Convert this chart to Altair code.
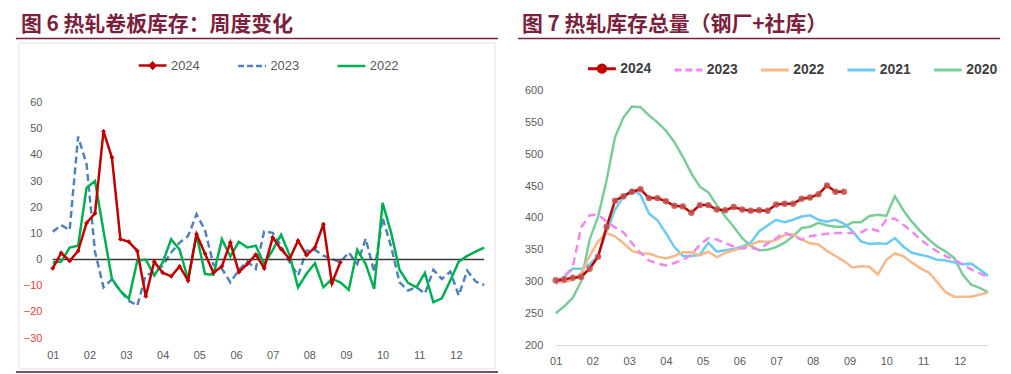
import json
import altair as alt
import pandas as pd

# ---------------- data ----------------
months = ["01", "02", "03", "04", "05", "06", "07", "08", "09", "10", "11", "12"]

title_left = ["图 6 热轧卷板库存：周度变化"]
title_right = ["图 7 热轧库存总量（钢厂+社库）"]

left_years = ["2024", "2023", "2022"]
right_years = ["2024", "2023", "2022", "2021", "2020"]

# weekly change (left)
chg_2024 = [-3.3, 2.5, -0.5, 3.3, 14, 17.7, 49, 39, 7.8, 6.8, 3.3, -14, -0.8, -5, -6.4,
            -2.6, -8, 9.7, 2.3, -5, -2.5, 6.5, -4.8, -1.7, 1.9, -3.3, 8.4, 4, 0.2, 7.2,
            1.7, 4.6, 13.5, -9, -1]
chg_2023 = [10.6, 13.2, 11.3, 47, 36.5, 3, -10.6, -7.6, -12, -15.7, -17.6, -6, -4.9, -2.3,
            2.7, 6.5, 9, 17.3, 11.3, -2, -3.5, -8.7, -4, -0.7, -3.6, 10.8, 10.2, 5.2, -1,
            -6.1, 3.4, 3.7, 1.5, 0.2, -1, 2.7, -1.7, 8, -4.9, 16, 5, -8.7, -11.8, -10.6,
            -13, -3.9, -7.4, -4.6, -13.7, -4.2, -8.4, -9.7]
chg_2022 = [-1.1, -0.8, 4.6, 5.3, 27.4, 30, 11, -7.4, -12, -15, -0.4, 0, -6.1, -1.1, 7.8,
            3.8, -7.6, 9.5, -5.5, -5.8, 7.8, 1.2, 6.8, 4.6, 5.3, -1.7, 3.6, 9.5, 1.7, -10.6,
            -5.4, -1.4, -10.6, -7.4, -8.7, -11.6, 3.7, -1.7, -11.2, 21.7, 10.3, -3.9, -8.9,
            -10.6, -5.1, -16.3, -14.8, -8, -0.8, 1.4, 3, 4.6]

# total inventory (right)
inv_2024 = [302, 303, 306, 307, 320, 339, 386, 427, 434, 441, 445, 431, 431, 426, 419, 418,
            408, 420, 420, 413, 412, 417, 413, 411, 412, 411, 421, 422, 422, 430, 432, 437,
            451, 441, 441]
inv_2023 = [296, 308, 322, 385, 404, 405, 394, 385, 377, 360, 345, 333, 328, 325, 329, 334,
            342, 358, 368, 366, 360, 355, 352, 353, 350, 360, 368, 377, 371, 366, 371, 373,
            375, 376, 376, 376, 377, 384, 379, 397, 399, 389, 379, 366, 356, 347, 340, 334,
            327, 319, 313, 307]
inv_2022 = [299, 299, 302, 313, 340, 363, 376, 371, 360, 348, 344, 344, 339, 336, 340, 346,
            346, 341, 347, 338, 345, 349, 353, 358, 363, 362, 365, 373, 374, 366, 360, 358,
            348, 340, 332, 322, 324, 323, 311, 334, 344, 340, 330, 321, 314, 299, 283, 276,
            276, 276, 279, 283]
inv_2021 = [298, 307, 320, 320, 327, 340, 378, 413, 433, 444, 436, 407, 396, 376, 354, 340,
            340, 342, 361, 347, 349, 351, 355, 361, 379, 388, 397, 393, 397, 402, 404, 397,
            394, 397, 391, 379, 363, 359, 360, 359, 368, 355, 345, 342, 339, 334, 333, 330,
            327, 328, 319, 309]
inv_2020 = [250, 261, 274, 300, 366, 402, 459, 527, 558, 575, 574, 561, 550, 537, 519, 496,
            470, 449, 440, 420, 402, 386, 368, 356, 349, 350, 354, 361, 371, 384, 386, 392,
            388, 386, 386, 393, 393, 403, 405, 403, 434, 412, 394, 379, 366, 355, 347, 337,
            311, 295, 290, 283]

left_y_ticks = [-30, -20, -10, 0, 10, 20, 30, 40, 50, 60]
right_y_ticks = [200, 250, 300, 350, 400, 450, 500, 550, 600]


def long_df(series):
    rows = []
    for yr, vals in series.items():
        for i, v in enumerate(vals):
            rows.append({"week": i + 1, "value": v, "year": yr})
    return pd.DataFrame(rows)


df_left = long_df({"2024": chg_2024, "2023": chg_2023, "2022": chg_2022})
df_right = long_df({"2024": inv_2024, "2023": inv_2023, "2022": inv_2022,
                    "2021": inv_2021, "2020": inv_2020})

# ---------------- styling ----------------
NUM_FONT = "Liberation Sans Narrow, Liberation Sans, sans-serif"
CJK_FONT = "Noto Sans CJK SC"
TITLE_COLOR = "#7A1F3D"
LABEL_GRAY = "#595959"

n_weeks = 52
tick_pos = [1 + m * n_weeks / 12 for m in range(12)]
month_expr = json.dumps(months).replace('"', "'") + "[round((datum.value-1)*12/52)]"

left_colors = ["#C00000", "#4F81BD", "#00B050"]
right_colors = ["#C00000", "#EE88EE", "#F5B98A", "#6CCAEF", "#7ACC98"]

DIAMOND = "M-1,0L1,0M-0.2,0L0,-0.2L0.2,0L0,0.2Z"
CIRCLE = "M-1,0L1,0M0.26,0A0.26,0.26,0,1,1,-0.26,0A0.26,0.26,0,1,1,0.26,0Z"


def x_axis(pad, domain_color=None):
    kw = dict(values=tick_pos, labelExpr=month_expr, ticks=False, grid=False,
              labelPadding=pad, labelFont=NUM_FONT, labelFontSize=11,
              labelColor=LABEL_GRAY, title=None, labelFlush=False, labelOverlap=False)
    if domain_color:
        kw.update(domain=True, domainColor=domain_color, domainWidth=1)
    else:
        kw.update(domain=False)
    return alt.Axis(**kw)


one = pd.DataFrame({"z": [0]})


def title_layer(text, xpos):
    return alt.Chart(pd.DataFrame({"t": text})).mark_text(
        align="left", baseline="middle", font=CJK_FONT, fontSize=21, fontWeight="bold",
        color=TITLE_COLOR).encode(text="t:N", x=alt.value(xpos), y=alt.value(-65.5))


def top_spacer():
    # invisible mark that reserves room above the titles
    return alt.Chart(one).mark_rule(opacity=0).encode(
        x=alt.value(0), x2=alt.value(10), y=alt.value(-82))


# ---------------- left panel ----------------
legend_left = alt.Legend(
    orient="none", legendX=85, legendY=-41, direction="horizontal", title=None,
    symbolType=alt.ExprRef(f"datum.label === '2024' ? '{DIAMOND}' : 'stroke'"),
    symbolDash=alt.ExprRef("datum.label === '2023' ? [6, 3] : [1, 0]"),
    symbolFillColor=alt.ExprRef("datum.label === '2024' ? '#C00000' : 'transparent'"),
    symbolSize=784, symbolStrokeWidth=2.5,
    labelFont=NUM_FONT, labelFontSize=13, labelColor=LABEL_GRAY,
    labelOffset=3, columnPadding=33,
)

y_axis_left = alt.Axis(values=left_y_ticks, ticks=False, domain=False, grid=False,
                       labelPadding=11, labelFont=NUM_FONT, labelFontSize=11, title=None,
                       labelOverlap=False, labelBound=False,
                       labelColor=alt.condition("datum.value < 0", alt.value("#E03C31"),
                                                alt.value(LABEL_GRAY)))
y_scale_left = alt.Scale(domain=[-32.66, 64.56], nice=False, zero=False)

xl = alt.X("week:Q", scale=alt.Scale(domain=[1, 52], nice=False, zero=False), axis=x_axis(5))
yl = alt.Y("value:Q", scale=y_scale_left, axis=y_axis_left)
cl = alt.Color("year:N", scale=alt.Scale(domain=left_years, range=left_colors), legend=legend_left)

base_l = alt.Chart(df_left).encode(x=xl, y=yl, color=cl)

l23 = base_l.transform_filter("datum.year == '2023'").mark_line(strokeWidth=2.5, strokeDash=[7, 4])
l22 = base_l.transform_filter("datum.year == '2022'").mark_line(strokeWidth=2.5)
l24 = base_l.transform_filter("datum.year == '2024'").mark_line(strokeWidth=2.5)
p24 = alt.Chart(df_left).transform_filter("datum.year == '2024'").mark_point(
    shape="diamond", filled=True, size=24, opacity=1, color="#C00000").encode(x=xl, y=yl)
zero_line = alt.Chart(one).mark_rule(color="#3A3A3A", strokeWidth=1.5).encode(
    y=alt.YDatum(0, scale=y_scale_left, axis=y_axis_left))

r_left = alt.Chart(one).mark_rule(color=TITLE_COLOR, strokeWidth=1.5).encode(
    x=alt.value(-37), x2=alt.value(448), y=alt.value(-52.5))
box_left = alt.Chart(one).mark_rect(fill="transparent", stroke="#EEDFE5", strokeWidth=1).encode(
    x=alt.value(-34), x2=alt.value(445), y=alt.value(-48), y2=alt.value(280))
foot_left = alt.Chart(one).mark_rule(color="#4A1A2C", strokeWidth=1.5).encode(
    x=alt.value(-37), x2=alt.value(448), y=alt.value(283))

left = alt.layer(l23, top_spacer(), title_layer(title_left, -32), r_left, box_left, foot_left,
                 zero_line, l22, l24, p24).properties(width=434, height=256)

# ---------------- right panel ----------------
legend_right = alt.Legend(
    orient="none", legendX=31, legendY=-38, direction="horizontal", title=None,
    symbolType=alt.ExprRef(f"datum.label === '2024' ? '{CIRCLE}' : 'stroke'"),
    symbolDash=alt.ExprRef("datum.label === '2023' ? [7, 4] : [1, 0]"),
    symbolFillColor=alt.ExprRef("datum.label === '2024' ? '#C8504D' : 'transparent'"),
    symbolSize=784, symbolStrokeWidth=3,
    labelFont=NUM_FONT, labelFontSize=14, labelFontWeight="bold", labelColor="#404040",
    labelOffset=3, columnPadding=16,
)

xr = alt.X("week:Q", scale=alt.Scale(domain=[1, 52], nice=False, zero=False),
           axis=x_axis(11, "#D9D9D9"))
yr = alt.Y("value:Q", scale=alt.Scale(domain=[200, 600], nice=False, zero=False),
           axis=alt.Axis(values=right_y_ticks, ticks=False, domain=False, grid=False,
                         labelPadding=13, labelFont=NUM_FONT, labelFontSize=11, title=None,
                         labelOverlap=False, labelColor=LABEL_GRAY))
cr = alt.Color("year:N", scale=alt.Scale(domain=right_years, range=right_colors), legend=legend_right)

base_r = alt.Chart(df_right).encode(x=xr, y=yr, color=cr)
r20 = base_r.transform_filter("datum.year == '2020'").mark_line(strokeWidth=2.5)
r21 = base_r.transform_filter("datum.year == '2021'").mark_line(strokeWidth=2.5)
r22 = base_r.transform_filter("datum.year == '2022'").mark_line(strokeWidth=2.5)
r23 = base_r.transform_filter("datum.year == '2023'").mark_line(strokeWidth=2.5, strokeDash=[8, 5])
r24 = base_r.transform_filter("datum.year == '2024'").mark_line(strokeWidth=2.5)
rp24 = alt.Chart(df_right).transform_filter("datum.year == '2024'").mark_point(
    shape="circle", filled=True, size=42, opacity=0.85, color="#C0504D").encode(x=xr, y=yr)

r_right = alt.Chart(one).mark_rule(color=TITLE_COLOR, strokeWidth=1.5).encode(
    x=alt.value(-38), x2=alt.value(447), y=alt.value(-52.5))

right = alt.layer(r20, top_spacer(), title_layer(title_right, -34), r_right,
                  r21, r22, r23, r24, rp24).properties(width=435, height=256)

chart = alt.hconcat(left, right, spacing=18).resolve_scale(color="independent").properties(
    padding={"left": 7, "top": 0, "right": 2, "bottom": 0}
).configure_view(stroke=None)

chart.save("out.html", embed_options={"renderer": "svg", "actions": False})
